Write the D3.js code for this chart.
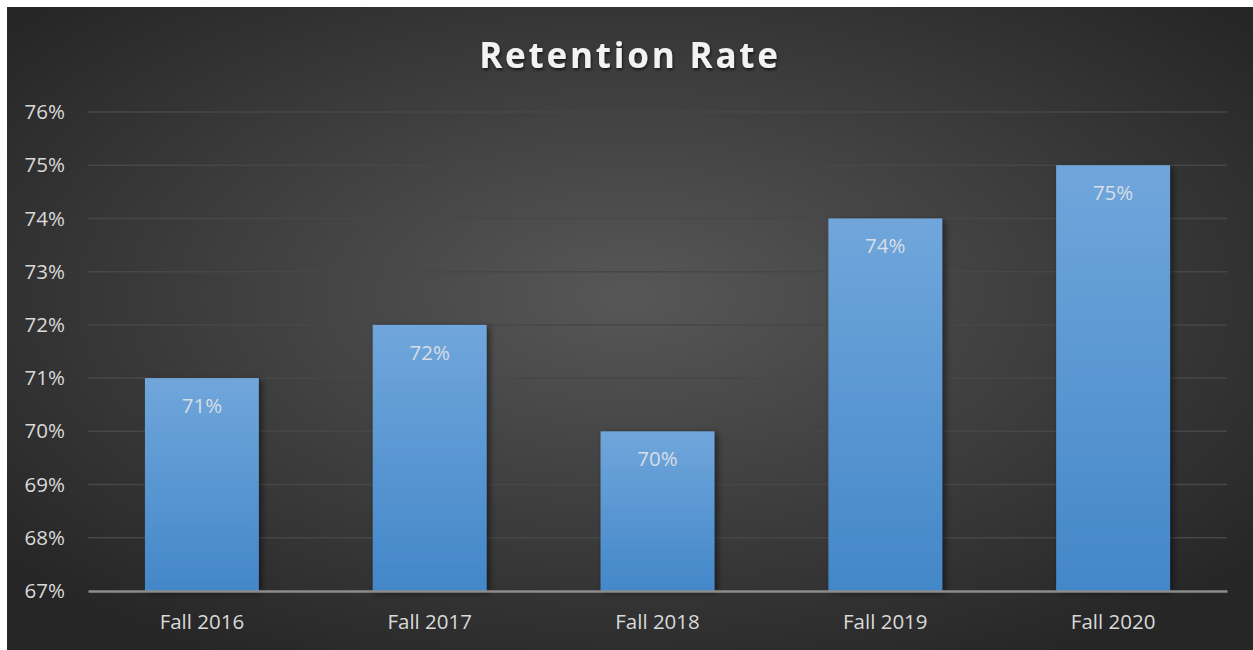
<!DOCTYPE html>
<html>
<head>
<meta charset="utf-8">
<script src="https://cdn.jsdelivr.net/npm/d3@7"></script>
<style>
  body { margin: 0; background: #fff; }
  svg { display: block; }
</style>
</head>
<body>
<script>
// chart data
const categories = ['Fall 2016', 'Fall 2017', 'Fall 2018', 'Fall 2019', 'Fall 2020'];
const rates = [71, 72, 70, 74, 75];
const yTicks = [67, 68, 69, 70, 71, 72, 73, 74, 75, 76];
const chartTitle = 'Retention Rate';

const W = 1253, H = 650;
const M = { top: 112, right: 26, bottom: 59, left: 88 };

const svg = d3.select('body').append('svg')
  .attr('width', W)
  .attr('height', H);

const defs = svg.append('defs');

// background radial gradient
const bg = defs.append('radialGradient')
  .attr('id', 'bg')
  .attr('cx', '50%').attr('cy', '45%').attr('r', '65%');
bg.append('stop').attr('offset', '0%').attr('stop-color', '#575757');
bg.append('stop').attr('offset', '100%').attr('stop-color', '#262626');

// bar gradient
const bar = defs.append('linearGradient')
  .attr('id', 'bar')
  .attr('x1', 0).attr('y1', 0).attr('x2', 0).attr('y2', 1);
bar.append('stop').attr('offset', '0%').attr('stop-color', '#70a6db');
bar.append('stop').attr('offset', '100%').attr('stop-color', '#4387c9');

// shadows
const sh = defs.append('filter').attr('id', 'shadow')
  .attr('x', '-20%').attr('y', '-20%').attr('width', '150%').attr('height', '140%');
sh.append('feDropShadow').attr('dx', 3).attr('dy', 2).attr('stdDeviation', 3)
  .attr('flood-color', '#000').attr('flood-opacity', 0.5);

const tsh = defs.append('filter').attr('id', 'tshadow');
tsh.append('feDropShadow').attr('dx', 1).attr('dy', 2).attr('stdDeviation', 1.5)
  .attr('flood-color', '#000').attr('flood-opacity', 0.6);

svg.append('rect')
  .attr('x', 7).attr('y', 7)
  .attr('width', W - 7).attr('height', H - 7)
  .attr('fill', 'url(#bg)');

// scales
const xScale = d3.scaleBand()
  .domain(categories)
  .range([M.left, W - M.right])
  .paddingInner(0.5)
  .paddingOuter(0.25);

const yScale = d3.scaleLinear()
  .domain([67, 76])
  .range([H - M.bottom, M.top]);

// gridlines
svg.append('g')
  .selectAll('line')
  .data(yTicks.filter(d => d !== 67))
  .enter()
  .append('line')
  .attr('x1', M.left)
  .attr('x2', W - M.right)
  .attr('y1', d => yScale(d))
  .attr('y2', d => yScale(d))
  .attr('stroke', '#474747')
  .attr('stroke-width', 1.5);

// y-axis labels
const yAxis = d3.axisLeft(yScale)
  .tickValues(yTicks)
  .tickFormat(d => d + '%')
  .tickSize(0)
  .tickPadding(23);

svg.append('g')
  .attr('transform', `translate(${M.left},0)`)
  .call(yAxis)
  .call(g => g.select('.domain').remove())
  .selectAll('text')
  .attr('fill', '#d9d9d9')
  .style('font-family', 'Open Sans, sans-serif')
  .style('font-size', '20.5px');

// bars
svg.append('g')
  .selectAll('rect')
  .data(rates)
  .enter()
  .append('rect')
  .attr('x', (d, i) => xScale(categories[i]))
  .attr('y', d => yScale(d))
  .attr('width', xScale.bandwidth())
  .attr('height', d => yScale(67) - yScale(d))
  .attr('fill', 'url(#bar)')
  .attr('filter', 'url(#shadow)');

// data labels
svg.append('g')
  .selectAll('text')
  .data(rates)
  .enter()
  .append('text')
  .attr('x', (d, i) => xScale(categories[i]) + xScale.bandwidth() / 2)
  .attr('y', d => yScale(d) + 35)
  .attr('text-anchor', 'middle')
  .attr('fill', '#d8dee6')
  .style('font-family', 'Open Sans, sans-serif')
  .style('font-size', '20.5px')
  .text(d => d + '%');

// x-axis
const xAxis = d3.axisBottom(xScale).tickSize(0).tickPadding(23);

svg.append('g')
  .attr('transform', `translate(0,${yScale(67)})`)
  .call(xAxis)
  .call(g => g.select('.domain')
    .attr('stroke', '#8c8c8c')
    .attr('stroke-width', 2.5))
  .selectAll('text')
  .attr('fill', '#d9d9d9')
  .style('font-family', 'Open Sans, sans-serif')
  .style('font-size', '20.5px');

// title
svg.append('text')
  .attr('x', 630)
  .attr('y', 68)
  .attr('text-anchor', 'middle')
  .attr('fill', '#f2f2f2')
  .attr('filter', 'url(#tshadow)')
  .style('font-family', 'Open Sans, sans-serif')
  .style('font-weight', 'bold')
  .style('font-size', '35px')
  .style('letter-spacing', '2.8px')
  .text(chartTitle);
</script>
</body>
</html>
